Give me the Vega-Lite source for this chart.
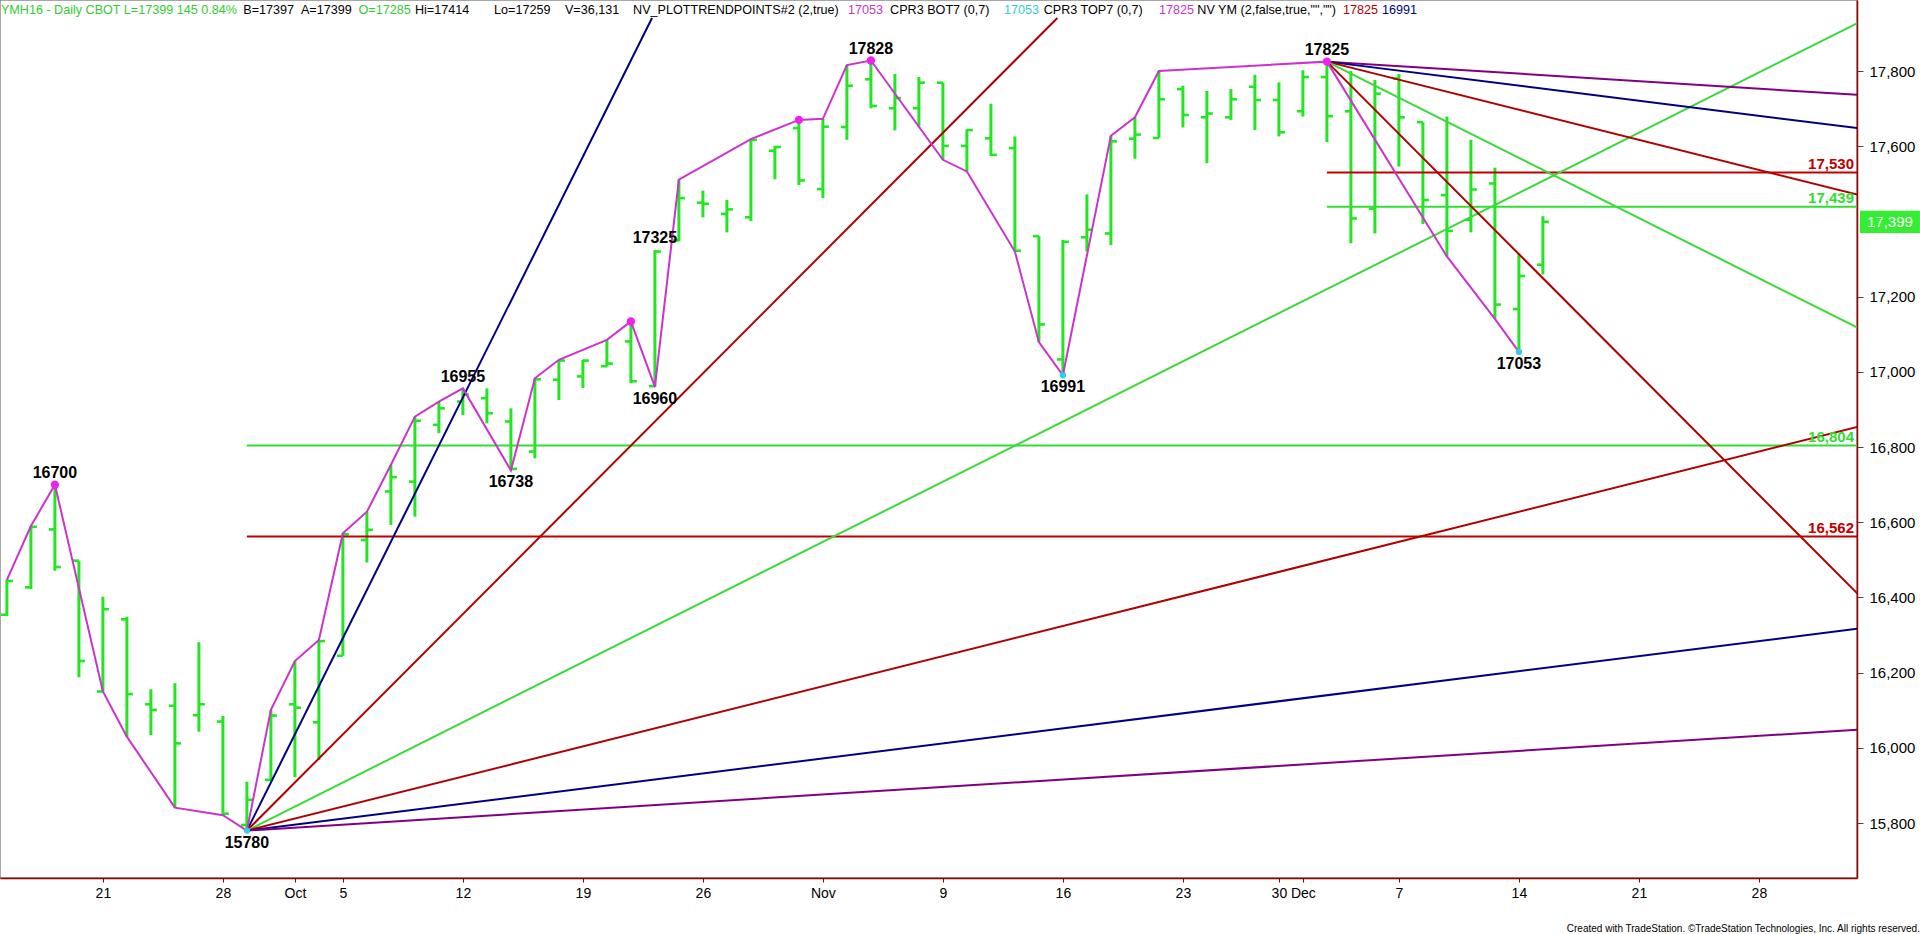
{
  "$schema": "https://vega.github.io/schema/vega-lite/v6.json",
  "width": 1857,
  "height": 878,
  "autosize": {"type": "none"},
  "padding": {"left": 0, "top": 0, "right": 63, "bottom": 56},
  "background": "white",
  "config": {"view": {"stroke": "#8a8a8a", "strokeWidth": 1.5}, "font": "Liberation Sans"},
  "title": {
    "text": "Created with TradeStation. ©TradeStation Technologies, Inc. All rights reserved.",
    "orient": "bottom", "anchor": "end", "frame": "bounds",
    "font": "Liberation Sans", "fontSize": 10, "fontWeight": "normal", "color": "#000", "offset": 24
  },
  "datasets": {
    "bars": [
      {"date": "2015-09-15", "i": 0, "o": 16354, "h": 16447, "l": 16351, "c": 16444},
      {"date": "2015-09-16", "i": 1, "o": 16427, "h": 16590, "l": 16423, "c": 16588},
      {"date": "2015-09-17", "i": 2, "o": 16581, "h": 16700, "l": 16471, "c": 16481},
      {"date": "2015-09-18", "i": 3, "o": 16498, "h": 16498, "l": 16188, "c": 16231},
      {"date": "2015-09-21", "i": 4, "o": 16150, "h": 16402, "l": 16150, "c": 16369},
      {"date": "2015-09-22", "i": 5, "o": 16342, "h": 16349, "l": 16030, "c": 16143},
      {"date": "2015-09-23", "i": 6, "o": 16116, "h": 16156, "l": 16034, "c": 16101},
      {"date": "2015-09-24", "i": 7, "o": 16112, "h": 16172, "l": 15841, "c": 16012},
      {"date": "2015-09-25", "i": 8, "o": 16087, "h": 16281, "l": 16043, "c": 16116},
      {"date": "2015-09-28", "i": 9, "o": 16070, "h": 16085, "l": 15821, "c": 15825},
      {"date": "2015-09-29", "i": 10, "o": 15795, "h": 15910, "l": 15780, "c": 15862},
      {"date": "2015-09-30", "i": 11, "o": 15915, "h": 16101, "l": 15913, "c": 16086},
      {"date": "2015-10-01", "i": 12, "o": 16116, "h": 16231, "l": 15922, "c": 16107},
      {"date": "2015-10-02", "i": 13, "o": 16068, "h": 16287, "l": 15968, "c": 16284},
      {"date": "2015-10-05", "i": 14, "o": 16245, "h": 16571, "l": 16245, "c": 16568},
      {"date": "2015-10-06", "i": 15, "o": 16553, "h": 16628, "l": 16493, "c": 16580},
      {"date": "2015-10-07", "i": 16, "o": 16682, "h": 16753, "l": 16593, "c": 16720},
      {"date": "2015-10-08", "i": 17, "o": 16708, "h": 16881, "l": 16615, "c": 16870},
      {"date": "2015-10-09", "i": 18, "o": 16859, "h": 16921, "l": 16837, "c": 16903},
      {"date": "2015-10-12", "i": 19, "o": 16921, "h": 16956, "l": 16885, "c": 16940},
      {"date": "2015-10-13", "i": 20, "o": 16930, "h": 16956, "l": 16863, "c": 16890},
      {"date": "2015-10-14", "i": 21, "o": 16868, "h": 16903, "l": 16738, "c": 16742},
      {"date": "2015-10-15", "i": 22, "o": 16788, "h": 16983, "l": 16770, "c": 16980},
      {"date": "2015-10-16", "i": 23, "o": 16979, "h": 17032, "l": 16925, "c": 17030},
      {"date": "2015-10-19", "i": 24, "o": 16988, "h": 17032, "l": 16957, "c": 17030},
      {"date": "2015-10-20", "i": 25, "o": 17015, "h": 17085, "l": 17014, "c": 17022},
      {"date": "2015-10-21", "i": 26, "o": 17081, "h": 17134, "l": 16970, "c": 16975},
      {"date": "2015-10-22", "i": 27, "o": 16962, "h": 17324, "l": 16960, "c": 17320},
      {"date": "2015-10-23", "i": 28, "o": 17350, "h": 17511, "l": 17347, "c": 17462},
      {"date": "2015-10-26", "i": 29, "o": 17450, "h": 17482, "l": 17411, "c": 17447},
      {"date": "2015-10-27", "i": 30, "o": 17420, "h": 17457, "l": 17371, "c": 17432},
      {"date": "2015-10-28", "i": 31, "o": 17411, "h": 17619, "l": 17401, "c": 17617},
      {"date": "2015-10-29", "i": 32, "o": 17588, "h": 17601, "l": 17512, "c": 17598},
      {"date": "2015-10-30", "i": 33, "o": 17648, "h": 17670, "l": 17497, "c": 17509},
      {"date": "2015-11-02", "i": 34, "o": 17486, "h": 17673, "l": 17462, "c": 17652},
      {"date": "2015-11-03", "i": 35, "o": 17651, "h": 17816, "l": 17617, "c": 17761},
      {"date": "2015-11-04", "i": 36, "o": 17778, "h": 17828, "l": 17701, "c": 17707},
      {"date": "2015-11-05", "i": 37, "o": 17701, "h": 17792, "l": 17642, "c": 17728},
      {"date": "2015-11-06", "i": 38, "o": 17701, "h": 17784, "l": 17652, "c": 17769},
      {"date": "2015-11-09", "i": 39, "o": 17769, "h": 17769, "l": 17564, "c": 17601},
      {"date": "2015-11-10", "i": 40, "o": 17601, "h": 17645, "l": 17533, "c": 17643},
      {"date": "2015-11-11", "i": 41, "o": 17621, "h": 17713, "l": 17574, "c": 17577},
      {"date": "2015-11-12", "i": 42, "o": 17595, "h": 17626, "l": 17320, "c": 17322},
      {"date": "2015-11-13", "i": 43, "o": 17361, "h": 17361, "l": 17079, "c": 17126},
      {"date": "2015-11-16", "i": 44, "o": 17033, "h": 17351, "l": 16991, "c": 17346},
      {"date": "2015-11-17", "i": 45, "o": 17358, "h": 17472, "l": 17320, "c": 17378},
      {"date": "2015-11-18", "i": 46, "o": 17368, "h": 17628, "l": 17337, "c": 17613},
      {"date": "2015-11-19", "i": 47, "o": 17620, "h": 17677, "l": 17567, "c": 17631},
      {"date": "2015-11-20", "i": 48, "o": 17622, "h": 17800, "l": 17622, "c": 17725},
      {"date": "2015-11-23", "i": 49, "o": 17752, "h": 17761, "l": 17650, "c": 17683},
      {"date": "2015-11-24", "i": 50, "o": 17677, "h": 17747, "l": 17555, "c": 17687},
      {"date": "2015-11-25", "i": 51, "o": 17677, "h": 17752, "l": 17670, "c": 17725},
      {"date": "2015-11-27", "i": 52, "o": 17758, "h": 17790, "l": 17643, "c": 17723},
      {"date": "2015-11-30", "i": 53, "o": 17723, "h": 17770, "l": 17626, "c": 17637},
      {"date": "2015-12-01", "i": 54, "o": 17693, "h": 17802, "l": 17679, "c": 17784},
      {"date": "2015-12-02", "i": 55, "o": 17784, "h": 17825, "l": 17611, "c": 17680},
      {"date": "2015-12-03", "i": 56, "o": 17693, "h": 17800, "l": 17342, "c": 17408},
      {"date": "2015-12-04", "i": 57, "o": 17434, "h": 17776, "l": 17368, "c": 17740},
      {"date": "2015-12-07", "i": 58, "o": 17780, "h": 17792, "l": 17546, "c": 17677},
      {"date": "2015-12-08", "i": 59, "o": 17664, "h": 17664, "l": 17393, "c": 17457},
      {"date": "2015-12-09", "i": 60, "o": 17470, "h": 17679, "l": 17307, "c": 17375},
      {"date": "2015-12-10", "i": 61, "o": 17404, "h": 17617, "l": 17371, "c": 17485},
      {"date": "2015-12-11", "i": 62, "o": 17501, "h": 17543, "l": 17141, "c": 17179},
      {"date": "2015-12-14", "i": 63, "o": 17167, "h": 17316, "l": 17053, "c": 17255},
      {"date": "2015-12-15", "i": 64, "o": 17285, "h": 17414, "l": 17259, "c": 17399}
    ],
    "zig": [
      {"i": 0, "p": 16447}, {"i": 1, "p": 16590}, {"i": 2, "p": 16700}, {"i": 4, "p": 16150},
      {"i": 5, "p": 16030}, {"i": 7, "p": 15841}, {"i": 9, "p": 15821}, {"i": 10, "p": 15780},
      {"i": 11, "p": 16101}, {"i": 12, "p": 16231}, {"i": 13, "p": 16287}, {"i": 14, "p": 16571},
      {"i": 15, "p": 16628}, {"i": 16, "p": 16753}, {"i": 17, "p": 16881}, {"i": 18, "p": 16921},
      {"i": 19, "p": 16956}, {"i": 21, "p": 16738}, {"i": 22, "p": 16983}, {"i": 23, "p": 17032},
      {"i": 25, "p": 17085}, {"i": 26, "p": 17134}, {"i": 27, "p": 16960}, {"i": 28, "p": 17511},
      {"i": 31, "p": 17619}, {"i": 33, "p": 17670}, {"i": 34, "p": 17673}, {"i": 35, "p": 17816},
      {"i": 36, "p": 17828}, {"i": 39, "p": 17564}, {"i": 40, "p": 17533}, {"i": 42, "p": 17320},
      {"i": 43, "p": 17079}, {"i": 44, "p": 16991}, {"i": 46, "p": 17628}, {"i": 47, "p": 17677},
      {"i": 48, "p": 17800}, {"i": 55, "p": 17825}, {"i": 60, "p": 17307}, {"i": 62, "p": 17141},
      {"i": 63, "p": 17053}
    ],
    "pivots": [
      {"i": 2, "p": 16700, "pos": "hi"}, {"i": 10, "p": 15780, "pos": "lo"},
      {"i": 19, "p": 16955, "pos": "hi"}, {"i": 21, "p": 16738, "pos": "lo"},
      {"i": 27, "p": 16960, "pos": "lo"}, {"i": 27, "p": 17325, "pos": "hi"},
      {"i": 36, "p": 17828, "pos": "hi"}, {"i": 44, "p": 16991, "pos": "lo"},
      {"i": 55, "p": 17825, "pos": "hi"}, {"i": 63, "p": 17053, "pos": "lo"}
    ],
    "dots": [
      {"i": 2, "p": 16700, "pos": "hi"}, {"i": 26, "p": 17134, "pos": "hi"},
      {"i": 33, "p": 17670, "pos": "hi"}, {"i": 36, "p": 17828, "pos": "hi"},
      {"i": 55, "p": 17825, "pos": "hi"}, {"i": 10, "p": 15780, "pos": "lo"},
      {"i": 44, "p": 16991, "pos": "lo"}, {"i": 63, "p": 17053, "pos": "lo"}
    ],
    "fans": [
      {"fan": "u128", "ratio": "128", "i": 10, "p": 15780}, {"fan": "u128", "ratio": "128", "i": 26.88, "p": 17941},
      {"fan": "u64", "ratio": "64", "i": 10, "p": 15780}, {"fan": "u64", "ratio": "64", "i": 43.77, "p": 17941},
      {"fan": "u32", "ratio": "32", "i": 10, "p": 15780}, {"fan": "u32", "ratio": "32", "i": 78, "p": 17956},
      {"fan": "u16", "ratio": "16", "i": 10, "p": 15780}, {"fan": "u16", "ratio": "16", "i": 78, "p": 16868},
      {"fan": "u8", "ratio": "8", "i": 10, "p": 15780}, {"fan": "u8", "ratio": "8", "i": 78, "p": 16324},
      {"fan": "u4", "ratio": "4", "i": 10, "p": 15780}, {"fan": "u4", "ratio": "4", "i": 78, "p": 16052},
      {"fan": "d4", "ratio": "4", "i": 55, "p": 17825}, {"fan": "d4", "ratio": "4", "i": 78, "p": 17733},
      {"fan": "d8", "ratio": "8", "i": 55, "p": 17825}, {"fan": "d8", "ratio": "8", "i": 78, "p": 17641},
      {"fan": "d16", "ratio": "16", "i": 55, "p": 17825}, {"fan": "d16", "ratio": "16", "i": 78, "p": 17457},
      {"fan": "d32", "ratio": "32", "i": 55, "p": 17825}, {"fan": "d32", "ratio": "32", "i": 78, "p": 17089},
      {"fan": "d64", "ratio": "64", "i": 55, "p": 17825}, {"fan": "d64", "ratio": "64", "i": 78, "p": 16353}
    ],
    "levels": [
      {"p": 17530, "i0": 55, "set": "a"},
      {"p": 17439, "i0": 55, "set": "b"},
      {"p": 16804, "i0": 10, "set": "b"},
      {"p": 16562, "i0": 10, "set": "a"}
    ],
    "header": [
      {"i": -0.25, "role": "quote", "t": "YMH16 - Daily CBOT L=17399 145 0.84%"},
      {"i": 9.85, "role": "name", "t": "B=17397"},
      {"i": 12.25, "role": "name", "t": "A=17399"},
      {"i": 14.65, "role": "quote", "t": "O=17285"},
      {"i": 17.0, "role": "name", "t": "Hi=17414"},
      {"i": 20.3, "role": "name", "t": "Lo=17259"},
      {"i": 23.25, "role": "name", "t": "V=36,131"},
      {"i": 26.09, "role": "name", "t": "NV_PLOTTRENDPOINTS#2 (2,true)"},
      {"i": 35.05, "role": "trend", "t": "17053"},
      {"i": 36.8, "role": "name", "t": "CPR3 BOT7 (0,7)"},
      {"i": 41.55, "role": "cprBot", "t": "17053"},
      {"i": 43.2, "role": "name", "t": "CPR3 TOP7 (0,7)"},
      {"i": 48.0, "role": "cprTop", "t": "17825"},
      {"i": 49.6, "role": "name", "t": "NV YM (2,false,true,\"\",\"\")"},
      {"i": 55.67, "role": "nvHigh", "t": "17825"},
      {"i": 57.3, "role": "nvLow", "t": "16991"}
    ],
    "last": [{"i": 78.46, "p": 17399}]
  },
  "resolve": {"scale": {"color": "independent"}},
  "layer": [
    {
      "data": {"name": "bars"},
      "mark": {"type": "rule", "color": "#22e622", "strokeWidth": 3, "clip": true},
      "encoding": {
        "x": {"field": "i", "type": "quantitative",
          "scale": {"domain": [-0.2875, 77.0875], "nice": false, "zero": false},
          "axis": {"orient": "bottom", "title": null, "grid": false,
            "values": [4, 9, 12, 14, 19, 24, 29, 34, 39, 44, 49, 53, 54, 58, 63, 68, 73],
            "labelExpr": "datum.value==4?'21':datum.value==9?'28':datum.value==12?'Oct':datum.value==14?'5':datum.value==19?'12':datum.value==24?'19':datum.value==29?'26':datum.value==34?'Nov':datum.value==39?'9':datum.value==44?'16':datum.value==49?'23':datum.value==53?'30':datum.value==54?'Dec':datum.value==58?'7':datum.value==63?'14':datum.value==68?'21':datum.value==73?'28':''",
            "domainColor": "#8b0000", "domainWidth": 1.5, "tickColor": "#8b0000", "tickSize": 4,
            "labelFont": "Liberation Sans", "labelFontSize": 14, "labelColor": "#000", "labelPadding": 4,
            "labelOverlap": false, "labelFlush": false, "labelBound": false}},
        "y": {"field": "l", "type": "quantitative",
          "scale": {"domain": [15654, 17988.9], "nice": false, "zero": false},
          "axis": {"orient": "right", "title": null, "grid": false,
            "values": [15800, 16000, 16200, 16400, 16600, 16800, 17000, 17200, 17600, 17800],
            "format": ",d", "domainColor": "#a00000", "domainWidth": 1.5, "tickColor": "#444", "tickSize": 6,
            "labelFont": "Liberation Sans", "labelFontSize": 15, "labelColor": "#000", "labelPadding": 6,
            "labelOverlap": false, "labelFlush": false, "labelBound": false}},
        "y2": {"field": "h"}
      }
    },
    {
      "data": {"name": "bars"},
      "mark": {"type": "point", "shape": "M-1,0L0,0", "size": 144, "filled": false, "strokeWidth": 2.6, "color": "#22e622", "opacity": 1, "clip": true},
      "encoding": {
        "x": {"field": "i", "type": "quantitative"},
        "y": {"field": "o", "type": "quantitative"}
      }
    },
    {
      "data": {"name": "bars"},
      "mark": {"type": "point", "shape": "M0,0L1,0", "size": 144, "filled": false, "strokeWidth": 2.6, "color": "#22e622", "opacity": 1, "clip": true},
      "encoding": {
        "x": {"field": "i", "type": "quantitative"},
        "y": {"field": "c", "type": "quantitative"}
      }
    },
    {
      "data": {"name": "levels"},
      "mark": {"type": "rule", "strokeWidth": 2, "clip": true},
      "encoding": {
        "x": {"field": "i0", "type": "quantitative"},
        "x2": {"datum": 78},
        "y": {"field": "p", "type": "quantitative"},
        "color": {"field": "set", "type": "nominal", "scale": {"domain": ["a", "b"], "range": ["#c00000", "#33dd33"]}, "legend": null}
      }
    },
    {
      "data": {"name": "fans"},
      "mark": {"type": "line", "strokeWidth": 2, "clip": true},
      "encoding": {
        "x": {"field": "i", "type": "quantitative"},
        "y": {"field": "p", "type": "quantitative"},
        "detail": {"field": "fan", "type": "nominal"},
        "color": {"field": "ratio", "type": "nominal", "scale": {"domain": ["4", "8", "16", "32", "64", "128"], "range": ["#800080", "#000080", "#b00000", "#3cd83c", "#b00000", "#000080"]}, "legend": null}
      }
    },
    {
      "data": {"name": "levels"},
      "mark": {"type": "text", "align": "right", "baseline": "bottom", "dx": -3, "dy": -1, "fontSize": 15, "fontWeight": "bold", "font": "Liberation Sans", "clip": false},
      "encoding": {
        "x": {"datum": 77.0875, "type": "quantitative"},
        "y": {"field": "p", "type": "quantitative"},
        "text": {"field": "p", "type": "quantitative", "format": ",d"},
        "color": {"field": "set", "type": "nominal", "scale": {"domain": ["a", "b"], "range": ["#c00000", "#33dd33"]}, "legend": null}
      }
    },
    {
      "data": {"name": "zig"},
      "mark": {"type": "line", "color": "#cc33cc", "strokeWidth": 2, "clip": true},
      "encoding": {
        "x": {"field": "i", "type": "quantitative"},
        "y": {"field": "p", "type": "quantitative"}
      }
    },
    {
      "data": {"name": "dots"},
      "transform": [{"filter": "datum.pos == 'hi'"}],
      "mark": {"type": "circle", "color": "#ee22ee", "size": 70, "opacity": 1},
      "encoding": {
        "x": {"field": "i", "type": "quantitative"},
        "y": {"field": "p", "type": "quantitative"}
      }
    },
    {
      "data": {"name": "dots"},
      "transform": [{"filter": "datum.pos == 'lo'"}],
      "mark": {"type": "circle", "color": "#33ccee", "size": 40, "opacity": 1},
      "encoding": {
        "x": {"field": "i", "type": "quantitative"},
        "y": {"field": "p", "type": "quantitative"}
      }
    },
    {
      "data": {"name": "pivots"},
      "transform": [{"filter": "datum.pos == 'hi'"}],
      "mark": {"type": "text", "baseline": "bottom", "dy": -4, "fontSize": 16, "fontWeight": "bold", "color": "#000", "font": "Liberation Sans"},
      "encoding": {
        "x": {"field": "i", "type": "quantitative"},
        "y": {"field": "p", "type": "quantitative"},
        "text": {"field": "p", "type": "quantitative", "format": "d"}
      }
    },
    {
      "data": {"name": "pivots"},
      "transform": [{"filter": "datum.pos == 'lo'"}],
      "mark": {"type": "text", "baseline": "top", "dy": 4, "fontSize": 16, "fontWeight": "bold", "color": "#000", "font": "Liberation Sans"},
      "encoding": {
        "x": {"field": "i", "type": "quantitative"},
        "y": {"field": "p", "type": "quantitative"},
        "text": {"field": "p", "type": "quantitative", "format": "d"}
      }
    },
    {
      "data": {"name": "header"},
      "mark": {"type": "text", "align": "left", "baseline": "alphabetic", "fontSize": 12.6, "font": "Liberation Sans", "clip": false},
      "encoding": {
        "x": {"field": "i", "type": "quantitative"},
        "y": {"datum": 17952, "type": "quantitative"},
        "text": {"field": "t", "type": "nominal"},
        "color": {"field": "role", "type": "nominal", "scale": {"domain": ["quote", "name", "trend", "cprBot", "cprTop", "nvHigh", "nvLow"], "range": ["#33cc33", "#000000", "#cc33cc", "#33cccc", "#cc33cc", "#b00000", "#000080"]}, "legend": null}
      }
    },
    {
      "data": {"name": "last"},
      "mark": {"type": "point", "shape": "M-1,-0.37L1,-0.37L1,0.37L-1,0.37Z", "size": 3600, "filled": true, "color": "#33ee33", "opacity": 1, "clip": false},
      "encoding": {
        "x": {"field": "i", "type": "quantitative"},
        "y": {"field": "p", "type": "quantitative"}
      }
    },
    {
      "data": {"name": "last"},
      "mark": {"type": "text", "align": "center", "baseline": "middle", "fontSize": 15, "color": "#ffffff", "font": "Liberation Sans", "clip": false},
      "encoding": {
        "x": {"field": "i", "type": "quantitative"},
        "y": {"field": "p", "type": "quantitative"},
        "text": {"field": "p", "type": "quantitative", "format": ",d"}
      }
    }
  ]
}
